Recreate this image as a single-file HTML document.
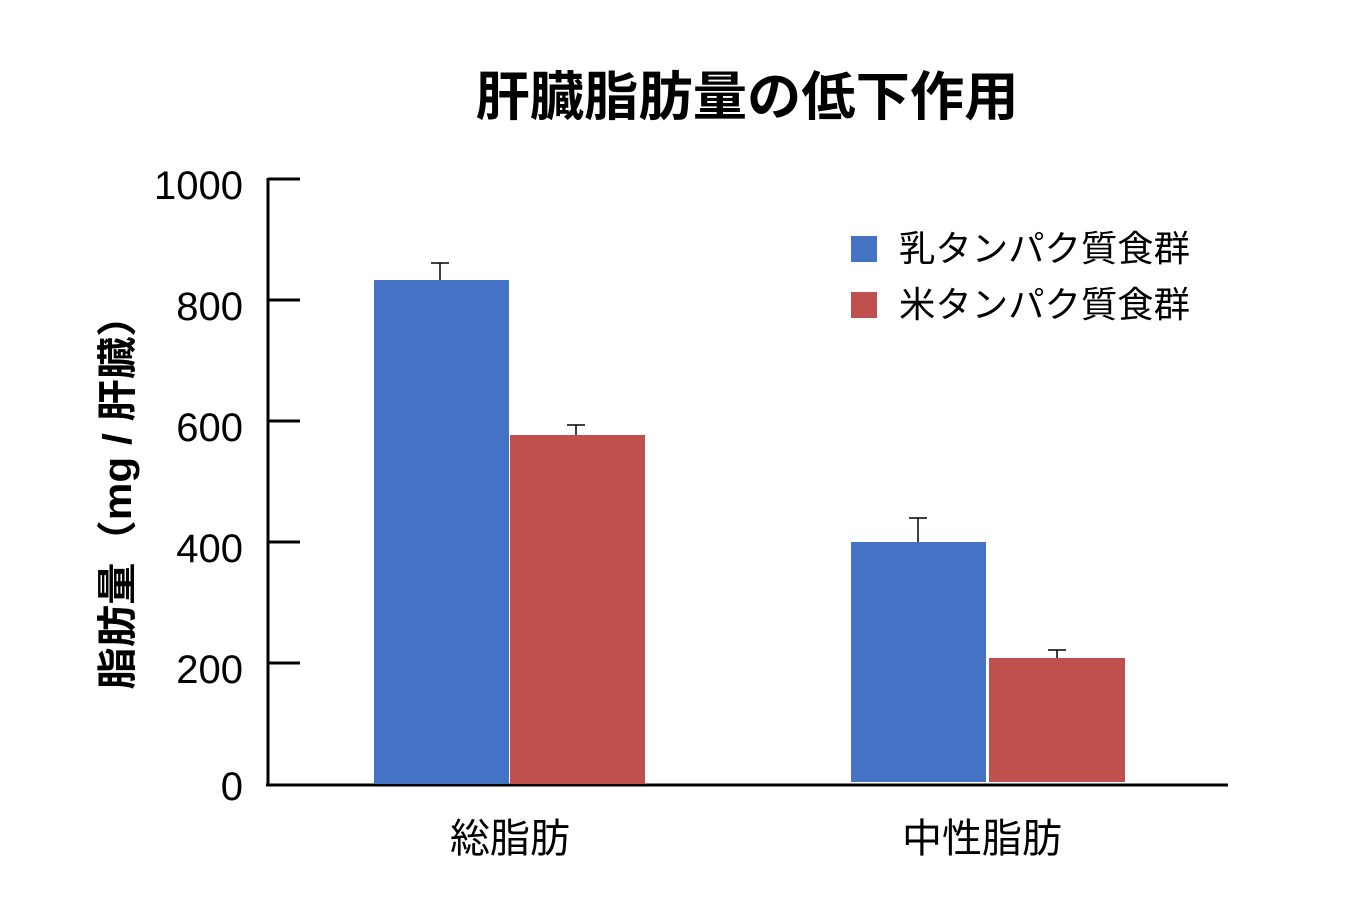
<!DOCTYPE html>
<html><head><meta charset="utf-8"><style>
html,body{margin:0;padding:0;background:#fff;}
svg{display:block;}
text{font-family:"Liberation Sans","Noto Sans CJK JP",sans-serif;fill:#000;}
</style></head><body>
<svg width="1360" height="906" viewBox="0 0 1360 906">
<text x="747" y="115" font-size="53" font-weight="bold" text-anchor="middle" textLength="543" lengthAdjust="spacingAndGlyphs">肝臓脂肪量の低下作用</text>
<text transform="translate(131,492) rotate(-90)" font-size="40" font-weight="bold" text-anchor="middle" textLength="395" lengthAdjust="spacingAndGlyphs">脂肪量（mg / 肝臓）</text>
<g font-size="40" text-anchor="end">
<text x="243" y="199">1000</text>
<text x="243" y="320">800</text>
<text x="243" y="441">600</text>
<text x="243" y="562">400</text>
<text x="243" y="683">200</text>
<text x="243" y="800">0</text>
</g>
<g stroke="#000" stroke-width="3">
<line x1="268" y1="178" x2="268" y2="786"/>
<line x1="266" y1="785" x2="1228" y2="785"/>
<line x1="268" y1="179" x2="300" y2="179"/>
<line x1="268" y1="300" x2="300" y2="300"/>
<line x1="268" y1="421" x2="300" y2="421"/>
<line x1="268" y1="542" x2="300" y2="542"/>
<line x1="268" y1="663" x2="300" y2="663"/>
</g>
<rect x="374" y="280" width="135" height="504" fill="#4472c4"/>
<rect x="510" y="435" width="135" height="349" fill="#c0504d"/>
<rect x="851" y="542" width="135" height="240" fill="#4472c4"/>
<rect x="989" y="658" width="136" height="124" fill="#c0504d"/>
<g stroke="#000" stroke-width="1.5">
<line x1="440" y1="263" x2="440" y2="280"/><line x1="431" y1="263" x2="449" y2="263"/>
<line x1="576" y1="425" x2="576" y2="435"/><line x1="567" y1="425" x2="585" y2="425"/>
<line x1="918" y1="518" x2="918" y2="542"/><line x1="909" y1="518" x2="927" y2="518"/>
<line x1="1057" y1="650" x2="1057" y2="658"/><line x1="1048" y1="650" x2="1066" y2="650"/>
</g>
<rect x="851" y="236" width="26" height="26" fill="#4472c4"/>
<rect x="851" y="292" width="26" height="26" fill="#c0504d"/>
<g font-size="36">
<text x="899" y="261" textLength="291" lengthAdjust="spacingAndGlyphs">乳タンパク質食群</text>
<text x="899" y="317" textLength="291" lengthAdjust="spacingAndGlyphs">米タンパク質食群</text>
</g>
<g font-size="40" text-anchor="middle">
<text x="510" y="852">総脂肪</text>
<text x="982" y="852">中性脂肪</text>
</g>
</svg>
</body></html>
